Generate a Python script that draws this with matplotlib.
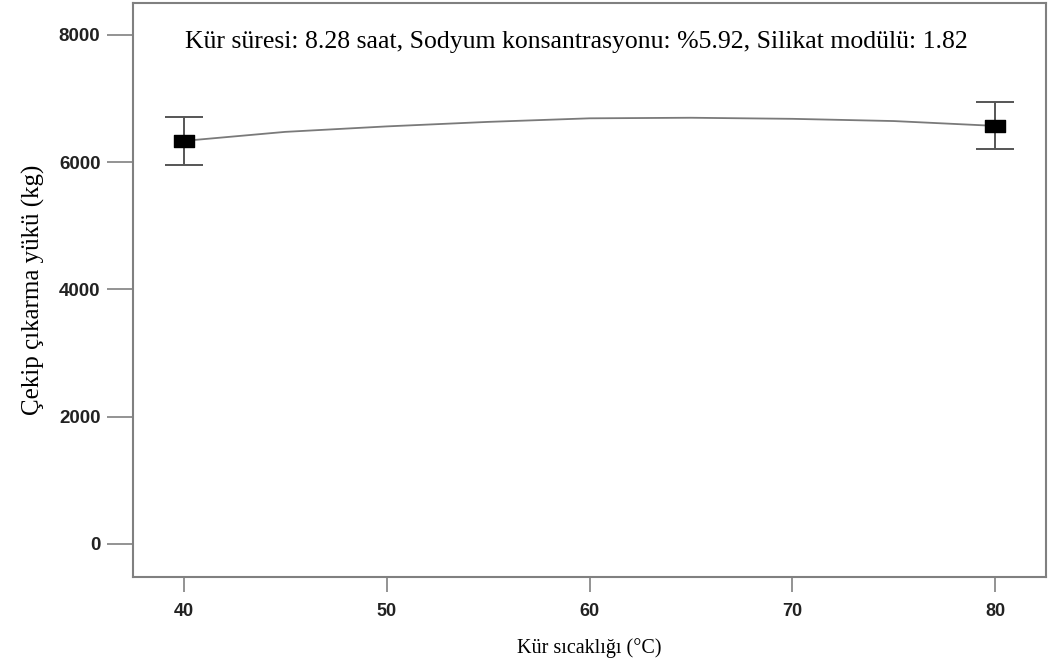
import matplotlib.pyplot as plt
from matplotlib.path import Path

# Kür sıcaklığı etkisi: ölçüm noktaları ve model eğrisi
temp_points = [40, 80]
load_points = [6330, 6570]
load_err = [378, 370]

curve_temp = [40, 45, 50, 55, 60, 65, 70, 75, 80]
curve_load = [6333, 6475, 6561, 6632, 6688, 6697, 6680, 6645, 6569]

x_ticks = [40, 50, 60, 70, 80]
y_ticks = [0, 2000, 4000, 6000, 8000]

info_text = 'Kür süresi: 8.28 saat, Sodyum konsantrasyonu: %5.92, Silikat modülü: 1.82'

fig = plt.figure(figsize=(10.5, 6.7), dpi=100)
ax = fig.add_axes([0.1267, 0.1388, 0.8695, 0.8567])

grey = '#808080'

# model eğrisi
ax.plot(curve_temp, curve_load, color='#7a7a7a', lw=1.3, zorder=2)

# dikdörtgen işaretçi (yatayda geniş)
rect = Path([(-1, -0.58), (1, -0.58), (1, 0.58), (-1, 0.58), (-1, -0.58)],
            [Path.MOVETO, Path.LINETO, Path.LINETO, Path.LINETO, Path.CLOSEPOLY])

ax.errorbar(temp_points, load_points, yerr=load_err, fmt='none',
            ecolor='#555555', elinewidth=1.4, capsize=13.7, capthick=1.4, zorder=3)
ax.plot(temp_points, load_points, linestyle='none', marker=rect, markersize=14,
        color='black', zorder=4)

ax.set_xlim(37.5, 82.5)
ax.set_ylim(-520, 8500)
ax.set_xticks(x_ticks)
ax.set_yticks(y_ticks)

for sp in ax.spines.values():
    sp.set_color(grey)
    sp.set_linewidth(1.5)

ax.tick_params(axis='y', length=18.5, width=1.2, color=grey, pad=5,
               labelsize=13.5)
ax.tick_params(axis='x', length=11, width=1.2, color=grey, pad=8,
               labelsize=13)
for lbl in ax.get_xticklabels() + ax.get_yticklabels():
    lbl.set_fontfamily('Liberation Sans')
    lbl.set_fontweight('bold')
    lbl.set_color('#222222')

ax.set_xlabel('Kür sıcaklığı (°C)', family='Liberation Serif', fontsize=14.5,
              labelpad=13)
ax.set_ylabel('Çekip çıkarma yükü (kg)', family='Liberation Serif', fontsize=18,
              labelpad=10)

ax.text(0.057, 0.932, info_text, transform=ax.transAxes, family='Liberation Serif',
        fontsize=18.5, va='center', ha='left')

plt.savefig('out.png', dpi=100)
plt.close()
